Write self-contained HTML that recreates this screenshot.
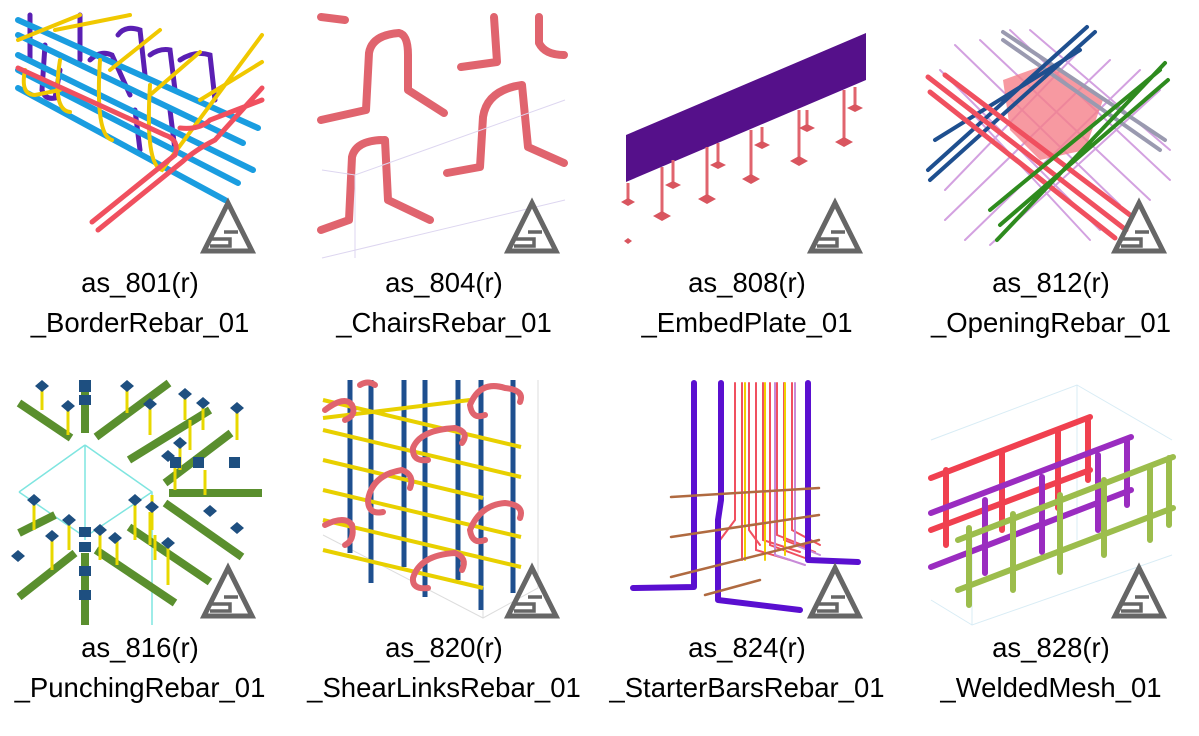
<!DOCTYPE html>
<html><head><meta charset="utf-8"><style>
html,body{margin:0;padding:0;background:#fff;}
body{width:1199px;height:736px;overflow:hidden;position:relative;font-family:"Liberation Sans",sans-serif;}
.l{position:absolute;width:300px;text-align:center;font-size:27.5px;color:#000;line-height:40px;}
</style></head><body>
<svg width="1199" height="736" style="position:absolute;left:0;top:0" xmlns="http://www.w3.org/2000/svg">
<defs>
<g id="logo" fill="none" stroke="#666" stroke-width="5">
<path d="M228,188 L204,236 L252,236 Z" stroke-linejoin="miter"/>
<path d="M224,217 H238 M212,224 H230 V231 H210" stroke-width="3.5"/>
</g>
</defs>
<!-- Tile 1 -->
<g stroke-linecap="round" fill="none">
<g stroke="#5a1fb3" stroke-width="5">
<path d="M30,15 V60 M45,45 L42,90 Q45,100 55,98 L60,70 M80,15 V60 M90,60 Q100,50 112,55 L130,95 M118,35 Q125,25 140,30 L145,75 M135,110 L140,150 M150,55 Q160,48 170,50 L175,90 M170,110 L175,150 M180,60 Q195,50 210,55 L215,100"/>
</g>
<g stroke="#1a9de0" stroke-width="6">
<path d="M18,20 L258,128 M18,35 L243,143 M18,55 L253,170 M18,70 L238,183 M18,88 L225,200"/>
</g>
<g stroke="#f0c800" stroke-width="4">
<path d="M18,40 L80,15 M25,70 Q20,95 35,95 L60,90 M60,60 Q52,110 70,112 M100,60 Q95,135 112,140 M150,85 Q145,165 162,170 L262,35 M110,70 L160,30 M150,95 L200,52 M200,100 L262,62 M55,30 L130,15"/>
</g>
<g stroke="#f0505f" stroke-width="5">
<path d="M92,222 L175,155 Q180,140 165,135 L18,68 M98,230 L182,162 Q195,150 215,140 L262,88 M180,128 Q200,130 210,120 L262,100"/>
</g>
</g>
<use href="#logo" x="0" y="15"/>
<!-- Tile 2 -->
<g stroke="#e0646e" stroke-width="8" fill="none" stroke-linecap="round" stroke-linejoin="round">
<path d="M321,120 L366,110 L369,53 Q372,35 399,33 Q408,35 408,55 L408,90 L444,113"/>
<path d="M321,230 L349,220 L352,157 Q356,140 385,140 L388,200 L430,220"/>
<path d="M447,173 L480,167 L483,117 Q487,90 522,85 L528,147 L564,163"/>
<path d="M494,17 L497,62 L461,67"/>
<path d="M539,17 L539,43 Q545,55 564,55"/>
<path d="M321,17 L345,20"/>
</g>
<g stroke="#ddd6f0" stroke-width="1" fill="none">
<path d="M322,170 L355,175 L565,100 M355,175 L355,258 M322,258 L565,200"/>
</g>
<use href="#logo" x="304" y="15"/>
<!-- Tile 3 -->
<polygon points="626,135 866,33 866,80 626,182" fill="#55108a"/>
<g stroke="#e0646e" stroke-width="3">
<path d="M628,183V203 M662,167V217 M707,147V200 M751,130V180 M799,110V162 M844,90V143 M673,160V187 M718,143V167 M762,127V147 M807,110V130 M855,87V110"/>
</g>
<g fill="#d9555f">
<path d="M662,211 l9,5 -9,5 -9,-5z M707,194 l9,5 -9,5 -9,-5z M751,174 l9,5 -9,5 -9,-5z M799,156 l9,5 -9,5 -9,-5z M844,137 l9,5 -9,5 -9,-5z M673,181 l8,4 -8,4 -8,-4z M718,161 l8,4 -8,4 -8,-4z M762,141 l8,4 -8,4 -8,-4z M807,124 l8,4 -8,4 -8,-4z M855,104 l8,4 -8,4 -8,-4z M628,198 l7,4 -7,4 -7,-4z M628,238 l4,3 -4,3 -4,-3z"/>
</g>
<use href="#logo" x="607" y="15"/>
<!-- Tile 4 -->
<g stroke-linecap="round" fill="none">
<g stroke="#c88ad8" stroke-width="2" opacity=".8">
<path d="M940,70 L1100,230 M955,45 L1120,205 M980,40 L1150,200 M1010,30 L1170,180 M945,190 L1080,50 M945,220 L1110,60 M965,240 L1140,70 M990,245 L1160,90 M1030,30 L1170,150 M960,100 L1090,240"/>
</g>
<polygon points="1003,80 1050,63 1103,100 1085,150 1040,160 1010,130" fill="#f57f8a" opacity=".8"/>
<g stroke="#9a9ab0" stroke-width="4"><path d="M1003,32 L1165,140 M1003,40 L1160,150"/></g>
<g stroke="#1e4f8f" stroke-width="4"><path d="M928,170 L1087,27 M930,180 L1095,32 M935,140 L1080,50"/></g>
<g stroke="#f0505f" stroke-width="5"><path d="M928,77 L1126,230 M930,92 L1115,238 M945,75 L1130,215"/></g>
<g stroke="#2e8b1e" stroke-width="4"><path d="M997,240 L1165,63 M1000,225 L1168,80 M990,210 L1160,70"/></g>
</g>
<use href="#logo" x="911" y="15"/>
<!-- Tile 5 -->
<g stroke="#7fe5e0" stroke-width="1.5" fill="none">
<path d="M85,445 L19,492 M85,445 L152,492 L152,625 M85,445 V540 M19,492 L85,537 L152,492"/>
</g>
<g stroke="#5a8f2e" stroke-width="8" stroke-linecap="butt">
<path d="M19,403 L71,438 M96,437 L169,383 M129,460 L210,410 M165,483 L231,433 M169,493 H262 M165,503 L242,557 M129,527 L210,582 M96,550 L175,603 M19,533 L55,515 M19,597 L75,553 M85,380 V433 M85,553 V625"/>
</g>
<g stroke="#e8d800" stroke-width="3">
<path d="M42,385V410 M68,405V435 M127,385V413 M150,400V435 M185,393V420 M190,420V450 M180,440V470 M203,400V430 M205,470V495 M175,462V490 M237,408V440 M34,500V530 M69,520V550 M52,535V570 M100,530V560 M117,535V565 M135,500V540 M150,512V545 M155,535V560 M168,540V585 M152,495V530"/>
</g>
<g fill="#1e4f80">
<path d="M42,380 l7,6 -7,6 -7,-6z M68,400 l7,6 -7,6 -7,-6z M127,380 l7,6 -7,6 -7,-6z M150,398 l7,6 -7,6 -7,-6z M185,388 l7,6 -7,6 -7,-6z M237,402 l7,6 -7,6 -7,-6z M168,450 l7,6 -7,6 -7,-6z M180,437 l7,6 -7,6 -7,-6z M203,397 l7,6 -7,6 -7,-6z M34,494 l7,6 -7,6 -7,-6z M69,514 l7,6 -7,6 -7,-6z M52,530 l7,6 -7,6 -7,-6z M100,524 l7,6 -7,6 -7,-6z M135,494 l7,6 -7,6 -7,-6z M152,501 l7,6 -7,6 -7,-6z M115,532 l7,6 -7,6 -7,-6z M168,537 l7,6 -7,6 -7,-6z M210,505 l7,6 -7,6 -7,-6z M237,522 l7,6 -7,6 -7,-6z M18,550 l7,6 -7,6 -7,-6z"/>
<rect x="79" y="380" width="12" height="12"/><rect x="79" y="395" width="12" height="10"/>
<rect x="79" y="527" width="12" height="10"/><rect x="79" y="542" width="12" height="10"/>
<rect x="79" y="566" width="12" height="10"/><rect x="79" y="590" width="12" height="10"/>
<rect x="170" y="457" width="11" height="11"/><rect x="193" y="457" width="11" height="11"/><rect x="229" y="457" width="11" height="11"/>
</g>
<use href="#logo" x="0" y="380"/>
<!-- Tile 6 -->
<g stroke="#ddd" stroke-width="1" fill="none"><path d="M323,535 L483,618 L538,588 V380 M483,618 V380"/></g>
<g stroke="#1e4f8f" stroke-width="5">
<path d="M350,380V553 M371,380V583 M404,380V567 M425,380V597 M458,380V580 M481,380V610 M513,380V593"/>
</g>
<g stroke="#e8d000" stroke-width="4">
<path d="M323,400 L521,447 M323,430 L521,477 M323,460 L483,498 M323,490 L521,537 M323,520 L521,567 M323,550 L483,588 M323,418 L470,400 "/>
</g>
<g stroke="#e0646e" stroke-width="6" fill="none" stroke-linecap="round">
<path d="M325,410 Q345,395 352,405 Q357,415 345,420"/>
<path d="M360,385 Q368,380 375,385"/>
<path d="M470,405 Q480,380 505,388 Q525,390 520,402 M470,405 Q472,420 485,415"/>
<path d="M413,448 Q420,430 455,428 Q470,432 462,443 M413,448 Q412,462 428,460"/>
<path d="M368,500 Q372,475 402,470 Q415,475 410,488 M368,500 Q368,515 383,512"/>
<path d="M470,530 Q480,505 505,503 Q525,505 520,518 M470,530 Q472,545 485,540"/>
<path d="M325,525 Q345,515 352,525 Q355,540 345,545"/>
<path d="M413,578 Q420,555 455,553 Q468,558 462,570 M413,578 Q412,590 428,588"/>
</g>
<use href="#logo" x="304" y="380"/>
<!-- Tile 7 -->
<g fill="none" stroke-linecap="round">
<g stroke-width="2">
<path d="M735,383 V520 L720,540 M742,383 V560 M749,383 V530 L760,545 M756,383 V550 L790,560 M763,383 V540 L800,552 M770,383 V545 L805,558 M777,383 V535 L810,548 M784,383 V540 L815,552 M792,383 V530 L820,545" stroke="#f05060"/>
<path d="M745,383 V560 M765,383V560 M785,383V555" stroke="#f0d000"/>
<path d="M775,383 V555 L805,565 M795,383 V545 L820,555" stroke="#c88ad8"/>
</g>
<g stroke="#5a0fd0" stroke-width="6" stroke-linejoin="round">
<path d="M694,383 V587 L633,588 M721,383 V500 L718,520 V600 L800,610 M808,383 V560 L858,562"/>
</g>
<g stroke="#b06a40" stroke-width="2.5">
<path d="M671,497 L819,488 M671,537 L819,515 M671,577 L819,540 M705,595 L760,580"/>
</g>
</g>
<use href="#logo" x="607" y="380"/>
<!-- Tile 8 -->
<g stroke="#d8ecf5" stroke-width="1" fill="none"><path d="M931,440 L1077,385 L1172,440 M1077,385 V540 M931,600 L972,625 L1172,555 M972,625 V540"/></g>
<g stroke-linecap="round" fill="none">
<g stroke="#f0404f" stroke-width="6">
<path d="M931,478 L1090,417 M931,530 L1090,470 M946,470V545 M1002,452V530 M1058,430V508 M1088,420V480"/>
</g>
<g stroke="#9a2cc0" stroke-width="6">
<path d="M931,513 L1131,437 M931,567 L1131,490 M985,500V573 M1042,477V552 M1098,455V530 M1127,440V505"/>
</g>
<g stroke="#9cbd4c" stroke-width="6">
<path d="M958,540 L1173,457 M958,590 L1173,508 M969,528V605 M1013,514V590 M1060,495V572 M1104,480V555 M1150,466V540 M1169,458V525"/>
</g>
</g>
<use href="#logo" x="911" y="380"/>
</svg>
<div class="l" style="left:-10px;top:263px">as_801(r)</div>
<div class="l" style="left:-10px;top:303px">_BorderRebar_01</div>
<div class="l" style="left:294px;top:263px">as_804(r)</div>
<div class="l" style="left:294px;top:303px">_ChairsRebar_01</div>
<div class="l" style="left:597px;top:263px">as_808(r)</div>
<div class="l" style="left:597px;top:303px">_EmbedPlate_01</div>
<div class="l" style="left:901px;top:263px">as_812(r)</div>
<div class="l" style="left:901px;top:303px">_OpeningRebar_01</div>
<div class="l" style="left:-10px;top:628px">as_816(r)</div>
<div class="l" style="left:-10px;top:668px">_PunchingRebar_01</div>
<div class="l" style="left:294px;top:628px">as_820(r)</div>
<div class="l" style="left:294px;top:668px">_ShearLinksRebar_01</div>
<div class="l" style="left:597px;top:628px">as_824(r)</div>
<div class="l" style="left:597px;top:668px">_StarterBarsRebar_01</div>
<div class="l" style="left:901px;top:628px">as_828(r)</div>
<div class="l" style="left:901px;top:668px">_WeldedMesh_01</div>
</body></html>
